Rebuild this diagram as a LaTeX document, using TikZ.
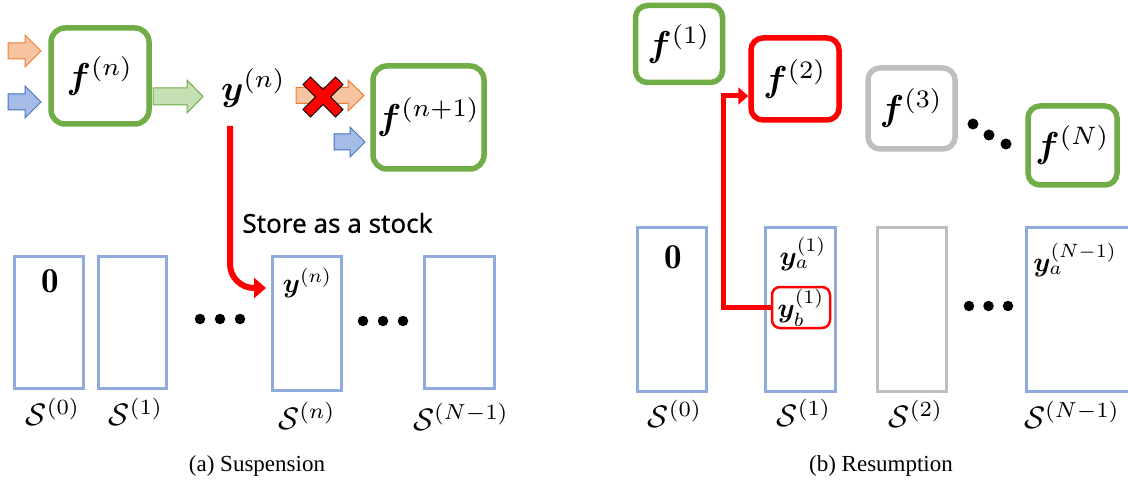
\documentclass[tikz,border=0pt]{standalone}
\usepackage{fontspec}
\usepackage{graphicx}
\usepackage{bm}
\usetikzlibrary{arrows.meta,calc}
\newfontfamily\storefont{Noto Sans}[FakeBold=0.6]
\newfontfamily\capfont{Liberation Serif}
\definecolor{fgreen}{HTML}{70AD47}
\definecolor{lgreen}{HTML}{C5E0B4}
\definecolor{orng}{HTML}{ED7D31}
\definecolor{lorng}{HTML}{F8C3A0}
\definecolor{blu}{HTML}{4472C4}
\definecolor{lblu}{HTML}{A5BCE6}
\definecolor{sblue}{HTML}{8FAADC}
\definecolor{fgray}{HTML}{BFBFBF}
\newcommand\blockarrow[8]{%
  \filldraw[fill=#1, draw=#2, line width=1pt] (#3,{#4-#6}) -- ({#5-#8},{#4-#6}) -- ({#5-#8},{#4-#7}) -- (#5,#4) -- ({#5-#8},{#4+#7}) -- ({#5-#8},{#4+#6}) -- (#3,{#4+#6}) -- cycle;}
\newcommand\fmath[1]{\scalebox{3.6}{$#1$}}
\newcommand\labmath[1]{\scalebox{3.1}{$#1$}}
\newcommand\smmath[1]{\scalebox{2.75}{$#1$}}
\newcommand\zeromath{\scalebox{3.5}{$\mathbf{0}$}}
\tikzset{
  fbox/.style={draw=fgreen, line width=5.5pt, rounded corners=14pt, fill=white, inner sep=0pt},
  plain/.style={inner sep=0pt},
  stockbox/.style={draw=sblue, line width=3pt, inner sep=0pt},
  dot/.style={circle, fill=black, inner sep=0pt, minimum size=10.5pt},
  redline/.style={draw=red, line width=6pt},
  caption/.style={font=\capfont\fontsize{23}{26}\selectfont, inner sep=0pt},
  storestyle/.style={font=\storefont\fontsize{26}{30}\selectfont, inner sep=0pt}
}
\begin{document}
\begin{tikzpicture}[x=1pt, y=-1pt]
\useasboundingbox (0,0) rectangle (1128,484);
\clip (0,0) rectangle (1128,484);
% ---------- (a) Suspension ----------
\blockarrow{lorng}{orng}{8}{51}{41}{8}{16}{16}
\blockarrow{lblu}{blu}{8}{102}{41}{8}{16}{16}
\blockarrow{lgreen}{fgreen}{153}{96.5}{203}{8.5}{16.5}{16}
\blockarrow{lorng}{orng}{296}{95.5}{364}{8}{15.5}{16}
\blockarrow{lblu}{blu}{334}{142}{365}{8}{15}{15}
\node[fbox, minimum width=98pt, minimum height=96pt] (fn) at (100,76) {\fmath{\bm{f}^{(n)}}};
\node[plain] (yn) at (253.5,88) {\fmath{\bm{y}^{(n)}}};
\node[fbox, minimum width=111pt, minimum height=103pt] (fn1) at (428.5,117.5) {\fmath{\bm{f}^{(n+1)}}};
\begin{scope}[shift={(323,97)}]
  \filldraw[fill=red, draw=black, line width=0.8pt] (7.5,0) -- (20,12.5) -- (12.5,20) -- (0,7.5) -- (-12.5,20) -- (-20,12.5) -- (-7.5,0) -- (-20,-12.5) -- (-12.5,-20) -- (0,-7.5) -- (12.5,-20) -- (20,-12.5) -- cycle;
\end{scope}
\node[stockbox, minimum width=69pt, minimum height=132pt] (S0L) at (49,322.5) {};
\node[stockbox, minimum width=68pt, minimum height=132pt] (S1L) at (132.5,322.5) {};
\node[stockbox, minimum width=69pt, minimum height=134pt] (SnL) at (307,323.5) {};
\node[stockbox, minimum width=70pt, minimum height=132pt] (SN1L) at (459.5,322.5) {};
\node[plain] (z0L) at (50,281) {\zeromath};
\node[plain] (ynS) at (307.5,283) {\smmath{\bm{y}^{(n)}}};
\node[dot] (da1) at (200,319) {};
\node[dot] (da2) at (220,319) {};
\node[dot] (da3) at (240,319) {};
\node[dot] (db1) at (363,321) {};
\node[dot] (db2) at (383,321) {};
\node[dot] (db3) at (403,321) {};
\node[plain] (lS0L) at (53,412) {\labmath{\mathcal{S}^{(0)}}};
\node[plain] (lS1L) at (136,412) {\labmath{\mathcal{S}^{(1)}}};
\node[plain] (lSnL) at (307,416) {\labmath{\mathcal{S}^{(n)}}};
\node[plain] (lSN1L) at (461,417) {\labmath{\mathcal{S}^{(N-1)}}};
\node[storestyle] (store) at (337.5,223) {Store as a stock};
\coordinate (rs) at (230,126);
\draw[redline, rounded corners=24pt, -{Triangle[length=12pt,width=20pt]}] (rs) |- ($(SnL.north west)+(-5,33)$);
\node[caption] (capa) at (257,466) {(a) Suspension};
% ---------- (b) Resumption ----------
\node[fbox, rounded corners=12pt, minimum width=87pt, minimum height=77pt] (f1) at (679,44) {\fmath{\bm{f}^{(1)}}};
\node[fbox, draw=red, rounded corners=12pt, minimum width=88pt, minimum height=82pt] (f2) at (795,79) {\fmath{\bm{f}^{(2)}}};
\node[fbox, draw=fgray, rounded corners=12pt, minimum width=87pt, minimum height=81pt] (f3) at (911.5,108.5) {\fmath{\bm{f}^{(3)}}};
\node[fbox, rounded corners=12pt, minimum width=89pt, minimum height=79pt] (fN) at (1072.5,145.5) {\fmath{\bm{f}^{(N)}}};
\node[dot, minimum size=11pt] (dc1) at (973,124) {};
\node[dot, minimum size=11pt] (dc2) at (989,135) {};
\node[dot, minimum size=11pt] (dc3) at (1006,144) {};
\node[stockbox, minimum width=69pt, minimum height=164pt] (S0R) at (672,309.5) {};
\node[stockbox, minimum width=70pt, minimum height=164pt] (S1R) at (800.5,309.5) {};
\node[stockbox, draw=fgray, minimum width=69pt, minimum height=164pt] (S2R) at (912,309.5) {};
\node[stockbox, minimum width=110pt, minimum height=164pt] (SN1R) at (1081.5,309.5) {};
\node[plain] (z0R) at (673,257) {\zeromath};
\node[plain] (ya1) at (803,254) {\smmath{\bm{y}_a^{(1)}}};
\node[plain, draw=red, line width=2.5pt, rounded corners=8pt, minimum width=58pt, minimum height=41pt] (yb) at (801,307.5) {\smmath{\bm{y}_b^{(1)}}};
\node[plain] (yaN) at (1075,260) {\smmath{\bm{y}_a^{(N-1)}}};
\node[dot] (dd1) at (969,306) {};
\node[dot] (dd2) at (988.5,306) {};
\node[dot] (dd3) at (1008,306) {};
\node[plain] (lS0R) at (675,414) {\labmath{\mathcal{S}^{(0)}}};
\node[plain] (lS1R) at (804,413) {\labmath{\mathcal{S}^{(1)}}};
\node[plain] (lS2R) at (916,414) {\labmath{\mathcal{S}^{(2)}}};
\node[plain] (lSN1R) at (1072,415) {\labmath{\mathcal{S}^{(N-1)}}};
\coordinate (rk) at (723.5,96);
\draw[draw=red, line width=5pt, -{Triangle[length=10pt,width=17pt]}] (yb.west) -| (rk) -- (rk -| f2.west);
\node[caption] (capb) at (881,466) {(b) Resumption};
\end{tikzpicture}
\end{document}
